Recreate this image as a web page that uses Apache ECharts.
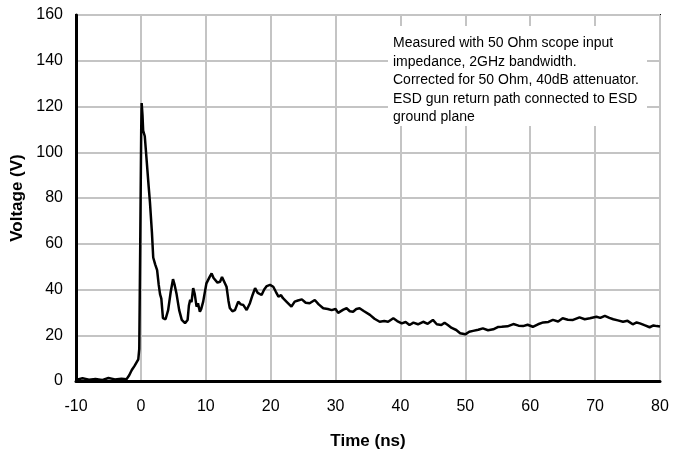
<!DOCTYPE html>
<html>
  <head>
    <title>ESD waveform</title>
    <style>
      html,
      body {
        height: 100%;
        margin: 0;
        padding: 0;
        background: #fff;
      }
      #chart-container {
        width: 674px;
        height: 455px;
      }
    </style>
    <script src="https://cdn.jsdelivr.net/npm/echarts@6/dist/echarts.min.js"></script>
  </head>
  <body>
    <div id="chart-container"></div>

    <script>
      // 时间 (ns) 与电压 (V)
      var timeNs = [
        -10, -9, -8, -7, -6, -5, -4, -3, -2.2, -1.8, -1.4, -1.0, -0.6, -0.4,
        -0.25, -0.1, 0.05, 0.12, 0.25, 0.35, 0.6, 0.9, 1.2, 1.4, 1.7, 1.9, 2.2,
        2.5, 2.75, 2.95, 3.15, 3.4, 3.8, 4.2, 4.6, 4.95, 5.2, 5.5, 5.9, 6.3,
        6.8, 7.2, 7.4, 7.6, 7.8, 8.06, 8.3, 8.58, 8.8, 9.09, 9.3, 9.6, 10.1,
        10.6, 10.9, 11.2, 11.4, 11.8, 12.2, 12.5, 12.8, 13.2, 13.5, 13.7, 14.1,
        14.5, 15.0, 15.4, 15.8, 16.3, 16.8, 17.2, 17.6, 18.0, 18.6, 19.0, 19.4,
        19.9, 20.4, 20.8, 21.2, 21.6, 21.9, 22.5, 23.2, 23.7, 24.2, 24.8, 25.4,
        26.0, 26.8, 27.4, 28.1, 28.8, 29.4, 30.0, 30.4, 30.7, 31.2, 31.7, 32.2,
        32.7, 33.2, 33.7, 34.4, 35.3, 36.0, 36.8, 37.5, 38.1, 38.9, 39.5, 40.2,
        40.8, 41.4, 42.0, 42.7, 43.5, 44.2, 45.0, 45.6, 46.3, 46.8, 47.3, 47.9,
        48.6, 49.2, 50.0, 50.6, 51.2, 52.0, 52.7, 53.5, 54.3, 55.0, 55.6, 56.5,
        57.4, 58.2, 58.9, 59.6, 60.4, 61.2, 62.0, 62.8, 63.5, 64.3, 65.0, 65.8,
        66.6, 67.6, 68.4, 69.2, 70.2, 70.8, 71.5, 72.2, 72.8, 73.5, 74.3, 75.0,
        75.8, 76.4, 76.9, 77.6, 78.4, 79.0, 79.5, 80,
      ];
      var voltage = [
        0.5, 1.2, 0.6, 0.9, 0.4, 1.3, 0.7, 1.0, 0.8, 2.5, 4.8, 6.5, 8.5, 9.5,
        14, 60, 110, 121.5, 116, 109.5, 107, 96, 85, 78, 65, 54, 51, 48.5, 42,
        38, 36, 27.5, 27, 31, 39, 44.5, 42, 38, 31, 26.7, 25.3, 26.7, 33, 35.5,
        34.5, 40.6, 38, 32.5, 34, 30.3, 31.5, 34.7, 42.7, 45.5, 47, 45, 44.2,
        43, 43.4, 45.5, 45, 41.2, 35, 31.9, 30.5, 31, 34.7, 33.5, 33.2, 31, 34,
        37.5, 40.6, 38.5, 37.6, 40, 41.5, 42, 41.2, 39, 36.9, 37.5, 36.2, 34.5,
        32.5, 34.7, 35.2, 35.7, 34.2, 34, 35.4, 33.5, 31.8, 31.5, 31, 31.5,
        29.8, 30.3, 31.2, 31.8, 30.5, 30.3, 31.5, 31.8, 30.5, 28.9, 27.2, 25.9,
        26.2, 25.9, 27.4, 26.2, 25.2, 25.8, 24.5, 25.5, 24.8, 25.9, 25.0, 26.7,
        24.8, 24.5, 25.5, 24.5, 23.2, 22.3, 20.9, 20.4, 21.5, 21.9, 22.4, 23,
        22.2, 22.6, 23.6, 23.7, 23.9, 24.9, 24.2, 24, 24.6, 23.7, 24.8, 25.6,
        25.8, 26.7, 26.0, 27.4, 26.8, 26.7, 27.8, 27.0, 27.4, 28.1, 27.6, 28.5,
        27.6, 27, 26.5, 25.9, 26.3, 24.8, 25.6, 25.2, 24.4, 23.5, 24.3, 24,
        23.8,
      ];
      var noteLines = [
        "Measured with 50 Ohm scope input",
        "impedance, 2GHz bandwidth.",
        "Corrected for 50 Ohm, 40dB attenuator.",
        "ESD gun return path connected to ESD",
        "ground plane",
      ];

      var font = "Liberation Sans, Arial, sans-serif";
      var myChart = echarts.init(document.getElementById("chart-container"), "", {
        renderer: "canvas",
      });

      var option = {
        animation: false,
        backgroundColor: "#fff",
        grid: {
          left: 76,
          right: 14,
          top: 15,
          bottom: 74,
          show: true,
          borderColor: "#000",
          borderWidth: 2,
        },
        xAxis: {
          type: "value",
          min: -10,
          max: 80,
          interval: 10,
          name: "Time (ns)",
          nameLocation: "middle",
          nameGap: 52,
          nameTextStyle: { fontFamily: font, fontSize: 17, fontWeight: "bold", color: "#000" },
          axisLine: { onZero: false, lineStyle: { color: "#000", width: 3 } },
          axisTick: { show: false },
          axisLabel: { fontFamily: font, fontSize: 16, color: "#000", margin: 18 },
          splitLine: { lineStyle: { color: "#c4c4c4", width: 2 } },
        },
        yAxis: {
          type: "value",
          min: 0,
          max: 160,
          interval: 20,
          name: "Voltage (V)",
          nameLocation: "middle",
          nameGap: 50,
          nameTextStyle: { fontFamily: font, fontSize: 17, fontWeight: "bold", color: "#000" },
          axisLine: { show: true, onZero: false, lineStyle: { color: "#000", width: 3 } },
          axisTick: { show: false },
          axisLabel: { fontFamily: font, fontSize: 16, color: "#000", margin: 13 },
          splitLine: { lineStyle: { color: "#c4c4c4", width: 2 } },
        },
        series: [
          {
            type: "line",
            data: timeNs.map(function (t, i) {
              return [t, voltage[i]];
            }),
            showSymbol: false,
            lineStyle: { color: "#000", width: 2.5 },
            z: 5,
          },
        ],
        // 注释框
        graphic: [
          {
            type: "rect",
            left: 388,
            top: 26,
            shape: { width: 259, height: 100 },
            style: { fill: "#fff" },
            z: 10,
          },
          {
            type: "text",
            left: 393,
            top: 34,
            style: {
              text: noteLines.join("\n"),
              font: "14px " + font,
              fill: "#000",
              lineHeight: 18.5,
            },
            z: 11,
          },
        ],
      };
      myChart.setOption(option);
    </script>
  </body>
</html>
